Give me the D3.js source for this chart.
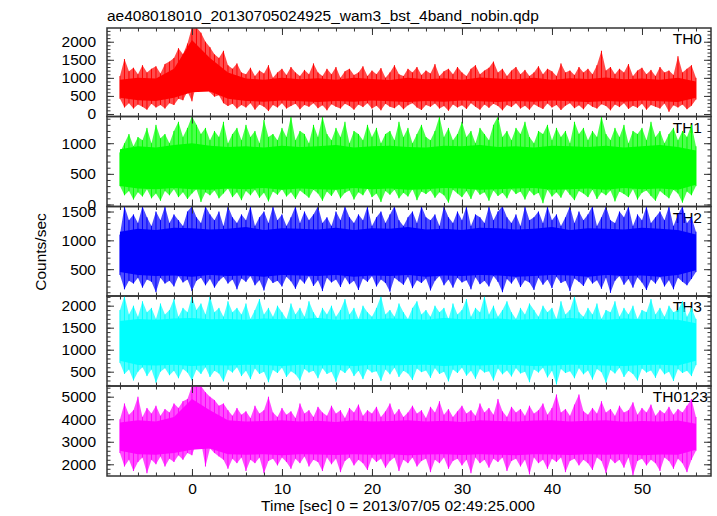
<!DOCTYPE html>
<html><head><meta charset="utf-8">
<script src="https://cdn.jsdelivr.net/npm/d3@7"></script>
<style>body{margin:0;background:#fff}svg{display:block}text{font-family:"Liberation Sans",Arial,Helvetica,sans-serif}</style>
</head><body><svg id="c" width="717" height="516"></svg>
<script>
// ---- data: light curves, 0.5 s bins: upper/lower extremes per bin (counts/sec) ----
const timeStart = -8, timeStep = 0.5;
// dense core of each band, read every 2 s
const coreStart = -8, coreStep = 2;
const panelNames = ["TH0", "TH1", "TH2", "TH3", "TH0123"];
const titleText = "ae408018010_20130705024925_wam3_bst_4band_nobin.qdp";
const xLabel = "Time [sec] 0 = 2013/07/05 02:49:25.000";
const yLabel = "Counts/sec";
const xTicks = [0, 10, 20, 30, 40, 50];
const yTicks0 = [0, 500, 1000, 1500, 2000];
const yTicks1 = [0, 500, 1000];
const yTicks2 = [500, 1000, 1500];
const yTicks3 = [500, 1000, 1500, 2000];
const yTicks4 = [2000, 3000, 4000, 5000];

const th0Hi = [1050,1520,1180,1280,1100,1350,1150,1250,1320,1120,1380,1450,1550,1820,1650,1950,
2400,2400,2250,2000,1850,1650,1550,1750,1350,1250,1400,1150,1100,1280,1050,1200,
1120,1350,1000,1150,1250,1080,1300,1150,1050,1220,1100,1400,1150,1050,1250,1100,
1300,1000,1180,1250,1080,1150,1320,1050,1200,1100,1270,1000,1150,1350,1100,1050,
1250,1150,1300,1080,1200,1120,1380,1050,1180,1250,1100,1300,1150,1050,1250,1350,
1100,1200,1280,1450,1150,1250,1050,1200,1300,1100,1220,1050,1150,1320,1100,1250,
1180,1050,1400,1150,1200,1080,1300,1150,1250,1100,1350,1750,1200,1300,1100,1250,
1150,1380,1050,1200,1280,1100,1220,1050,1300,1150,1200,1080,1600,1150,1250,1350,1000];
const th0Lo = [420,180,300,150,260,200,120,280,180,250,150,300,250,420,380,620,
350,820,750,780,600,480,520,300,220,280,150,250,180,300,120,260,
200,80,250,180,300,150,220,280,130,250,200,300,160,240,100,270,
200,150,280,220,120,260,190,300,150,230,100,280,200,160,260,130,
240,300,180,110,250,200,290,150,220,90,260,180,240,140,300,200,
120,260,170,280,220,100,250,190,300,150,230,120,270,200,140,290,
180,250,110,230,300,160,240,130,280,200,150,270,220,100,260,190,
300,140,230,170,280,120,250,200,150,290,60,240,180,260,130,230,400];

const th1Hi = [850,1000,1150,950,1100,1050,1250,1000,1300,1080,1150,1000,1200,1350,1100,1250,
1440,1300,1150,1250,1050,1200,1100,1350,1000,1150,1250,1050,1300,1100,1200,1000,
1380,1100,1150,1050,1250,1100,1440,1050,1200,1150,1000,1300,1100,1440,1150,1050,
1250,1100,1350,1000,1200,1150,1050,1300,1100,1250,1000,1150,1200,1050,1350,1100,
1250,1000,1150,1300,1100,1050,1200,1440,1100,1250,1050,1150,1350,1100,1200,1000,
1250,1150,1050,1300,1440,1100,1200,1050,1250,1150,1350,1100,1000,1200,1150,1300,
1050,1250,1100,1200,1000,1350,1150,1250,1050,1200,1100,1440,1150,1050,1250,1100,
1300,1000,1200,1150,1250,1050,1350,1100,1200,1000,1150,1250,1050,1200,1100,1300,950];
const th1Lo = [300,150,220,80,200,130,250,100,180,60,220,150,250,120,200,90,
180,250,40,200,150,230,100,180,260,120,200,70,220,150,240,110,
190,50,210,160,250,130,200,90,230,170,110,240,180,60,210,140,
250,100,190,230,80,200,150,260,120,180,40,220,160,240,100,190,
130,250,70,210,170,230,110,200,150,30,240,180,120,220,90,250,
160,200,60,230,140,190,100,250,170,210,80,230,150,190,20,240,
130,200,110,250,160,70,220,180,120,240,90,200,150,230,50,210,
170,120,250,80,190,230,140,60,220,160,100,240,180,30,210,150,300];

const th2Hi = [1100,1590,1350,1450,1300,1590,1400,1250,1500,1350,1590,1300,1450,1350,1250,1500,
1590,1400,1300,1590,1450,1350,1500,1250,1590,1400,1300,1450,1350,1590,1250,1400,
1500,1300,1590,1350,1450,1250,1400,1590,1300,1500,1350,1450,1590,1300,1400,1250,
1500,1350,1590,1400,1300,1450,1350,1590,1250,1400,1500,1300,1450,1590,1350,1250,
1400,1500,1300,1590,1400,1350,1450,1250,1590,1400,1300,1500,1350,1590,1250,1450,
1400,1300,1590,1350,1500,1590,1400,1300,1450,1250,1590,1350,1400,1500,1300,1590,
1350,1450,1250,1400,1590,1300,1500,1350,1450,1590,1250,1400,1590,1350,1300,1500,
1400,1590,1250,1450,1350,1590,1300,1400,1500,1350,1590,1250,1450,1590,1300,1400,1150];
const th2Lo = [400,150,300,250,350,180,320,280,100,350,250,300,200,380,270,320,
120,300,350,220,330,180,300,370,250,320,150,340,280,380,220,310,
130,350,260,300,200,370,290,160,330,250,380,210,310,120,350,270,
320,190,360,240,300,140,340,280,380,200,320,260,110,350,290,230,
370,170,310,260,340,130,300,380,220,320,180,350,270,310,150,360,
240,300,200,380,280,100,330,250,360,190,310,270,140,350,230,320,
170,370,260,300,120,340,280,210,360,250,310,160,350,90,300,380,
230,330,180,360,270,140,320,250,370,200,310,150,350,280,220,330,450];

const th3Hi = [1900,2220,1800,2000,1750,2100,1850,1950,1700,2050,1800,1900,2150,1750,1950,1850,
2220,1900,2050,1800,2220,1850,1950,1750,2100,1850,1950,1800,2050,1700,1900,2150,
1800,1950,1750,2000,1850,1700,2050,1800,1950,1750,2100,1850,1700,1950,1800,2000,
1750,1900,2150,1800,1950,1700,2000,1850,1750,1950,2220,1800,1900,1750,2050,1850,
1700,1950,2100,1800,1900,1750,2000,1850,1950,1700,2050,1800,1900,2150,1750,1950,
1850,2220,1800,2000,1750,1900,2100,1850,1700,1950,1800,2050,1900,1750,2000,1850,
1950,1700,2100,1800,1900,2220,1850,1750,1950,1800,2050,1700,1900,1850,2100,1750,
1950,1800,2000,1700,1900,1850,2150,1800,1950,1750,2000,1850,1900,2100,1750,1950,1700];
const th3Lo = [700,450,550,300,500,600,400,550,250,500,580,420,520,350,560,480,
300,550,450,600,380,520,460,280,550,480,600,400,520,330,570,450,
500,260,540,470,590,380,510,440,300,560,480,520,350,580,450,500,
270,540,470,590,400,520,330,560,480,510,290,550,440,590,380,520,
460,310,570,490,530,360,580,450,500,280,550,470,590,410,520,340,
560,480,510,300,570,440,530,390,580,460,500,260,550,480,590,370,
520,210,560,470,510,350,580,440,530,320,560,490,250,540,460,590,
380,520,450,300,570,480,530,360,580,440,500,290,560,470,520,400,650];

const th0123Hi = [4000,4700,4200,4400,5000,4100,4500,4250,4600,4150,4450,4300,4700,4500,4800,4900,
5480,5480,5480,5200,5000,4850,4600,4700,4400,4150,4500,4200,4350,4050,4600,4250,
4400,5000,4300,4100,4500,4200,4350,4050,4700,4250,4400,4100,4550,4300,4150,4600,
4250,4400,4050,4500,4300,4650,4150,4400,4250,4550,4100,4350,4700,4200,4450,4100,
4300,4600,4250,4400,4050,4550,4300,4800,4200,4450,4100,4350,4600,4250,4400,4150,
4700,4300,4500,4200,4900,4350,4100,4550,4300,4450,4150,4600,4250,4400,4700,4200,
4500,5100,4300,4450,4150,4650,5100,4350,4200,4500,4250,4800,4300,4450,4150,4600,
4300,4400,4750,4200,4500,4300,4650,4150,4400,4250,4550,4200,4450,4300,4600,4900,4100];
const th0123Lo = [2500,1900,2200,1700,2100,2300,1600,2200,2000,2350,1900,2250,2100,2400,2200,2500,
2400,2950,3000,1900,2700,2500,2350,2200,1800,2250,2050,2300,1700,2200,2050,2300,
1600,2150,2250,1950,2300,2100,1800,2250,2050,2350,1900,2200,2100,1700,2300,2000,
2250,1650,2150,2300,1950,2200,2050,1750,2300,2100,2250,1850,2150,2300,1700,2200,
2050,2300,1900,2150,2250,1650,2200,2050,2300,1800,2150,2250,1950,2200,1600,2300,
2050,2200,1850,2250,2100,2300,1700,2150,2250,1900,2200,1550,2300,2050,2200,1800,
2250,2100,2300,1650,2150,2250,1950,2200,2050,1750,2300,2150,1600,2250,2050,2200,
1850,2300,1500,2150,2250,1950,2200,2050,1700,2300,2150,1800,2250,2050,1650,2200,2600];

// dense core (2 s steps, t = -8 … 56)
const th0CoreHi = [950,1000,980,1250,2050,1550,1150,980,950,1000,960,990,950,1000,970,940,1000,960,990,950,1010,980,960,1000,950,990,970,1010,960,980,950,1000,900];
const th0CoreLo = [450,380,360,450,600,620,420,360,340,370,350,330,360,340,370,350,330,360,340,370,350,330,360,340,370,350,330,360,340,370,350,330,450];
const th1CoreHi = [900,950,930,970,1000,960,940,950,930,960,940,950,970,930,950,960,940,930,960,950,970,940,950,930,960,950,940,960,930,950,970,940,880];
const th1CoreLo = [300,260,250,270,250,240,260,250,270,240,260,250,240,270,250,260,240,250,270,260,240,250,260,270,240,250,260,240,270,250,260,240,320];
const th2CoreHi = [1150,1200,1180,1220,1210,1190,1200,1230,1180,1210,1200,1190,1220,1180,1210,1200,1230,1190,1200,1180,1220,1210,1190,1200,1230,1180,1210,1200,1190,1220,1200,1180,1100];
const th2CoreLo = [450,400,380,390,370,400,380,390,370,400,390,380,400,370,390,380,400,370,390,380,400,390,370,380,400,390,370,400,380,390,370,400,480];
const th3CoreHi = [1650,1700,1680,1710,1720,1690,1700,1680,1710,1690,1700,1720,1680,1700,1690,1710,1700,1680,1720,1690,1700,1710,1680,1700,1690,1720,1700,1680,1710,1690,1700,1680,1600];
const th3CoreLo = [750,650,640,660,630,650,640,660,650,630,660,640,650,630,660,640,650,660,630,650,640,660,650,630,640,660,650,640,630,650,660,640,750];
const th0123CoreHi = [3850,3950,3900,4100,4900,4400,3950,3900,3920,3950,3900,3930,3880,3950,3900,3920,3960,3900,3930,3880,3950,3920,3900,3940,3960,3900,3930,3950,3890,3920,3900,3940,3800];
const th0123CoreLo = [2600,2450,2420,2500,2650,2700,2450,2420,2440,2400,2450,2430,2410,2440,2420,2450,2400,2430,2440,2410,2450,2420,2400,2440,2430,2410,2450,2420,2440,2400,2430,2420,2650];

const seriesHi = [th0Hi, th1Hi, th2Hi, th3Hi, th0123Hi];
const seriesLo = [th0Lo, th1Lo, th2Lo, th3Lo, th0123Lo];
const coreHi = [th0CoreHi, th1CoreHi, th2CoreHi, th3CoreHi, th0123CoreHi];
const coreLo = [th0CoreLo, th1CoreLo, th2CoreLo, th3CoreLo, th0123CoreLo];
const yTickSets = [yTicks0, yTicks1, yTicks2, yTicks3, yTicks4];

// ---- layout / style ----
const colors = ["#ff0000", "#00ff00", "#0000ff", "#00ffff", "#ff00ff"];
const yDomains = [[-70, 2380], [-33, 1436], [35, 1587], [175, 2220], [1480, 5475]];
const yMinorStep = [100, 100, 100, 100, 200];
const edges = [28, 116.5, 206.5, 296, 386, 476];
const L = 107, R = 711;
const labelRight = [702, 702, 702, 702, 708];
const FS = "15.5px";
const axisColor = "#333";

const svg = d3.select("#c");
const x = d3.scaleLinear().domain([-9.44, 57.67]).range([L, R]);
const xMinor = d3.range(-8, 57, 2);

function styleAxis(g) {
  g.select(".domain").remove();
  g.selectAll(".tick line").attr("stroke", axisColor).attr("stroke-width", 1);
  g.selectAll("text").attr("font-size", FS).attr("fill", "#000")
    .attr("font-family", '"Liberation Sans",Arial,Helvetica,sans-serif');
}

panelNames.forEach((name, i) => {
  const top = edges[i], bot = edges[i + 1];
  const y = d3.scaleLinear().domain(yDomains[i]).range([bot, top]);
  const data = seriesHi[i].map((h, k) => ({ t: timeStart + k * timeStep, hi: h, lo: seriesLo[i][k] }));
  const core = coreHi[i].map((h, k) => ({ t: coreStart + k * coreStep, hi: h, lo: coreLo[i][k] }));
  const g = svg.append("g");

  // panel label
  g.append("text").attr("x", labelRight[i]).attr("y", top + 16)
    .attr("text-anchor", "end").attr("font-size", FS).text(name);

  // data
  svg.append("clipPath").attr("id", "clip" + i).append("rect")
    .attr("x", L).attr("y", top).attr("width", R - L).attr("height", bot - top);
  const dg = g.append("g").attr("clip-path", `url(#clip${i})`);
  const area = d3.area().x(d => x(d.t)).y0(d => y(d.lo)).y1(d => y(d.hi));
  dg.append("path").datum(data).attr("d", area).attr("fill", colors[i]).attr("fill-opacity", 0.7);
  dg.selectAll("line.n").data(data).join("line").attr("class", "n")
    .attr("x1", d => x(d.t)).attr("x2", d => x(d.t))
    .attr("y1", d => y(d.lo)).attr("y2", d => y(d.hi))
    .attr("stroke", colors[i]).attr("stroke-width", 1);
  dg.append("path").datum(core).attr("d", area).attr("fill", colors[i]);

  // y axes
  const [d0, d1] = yDomains[i];
  const yMinor = d3.range(Math.ceil(d0 / yMinorStep[i]) * yMinorStep[i], d1, yMinorStep[i]);
  const yMajor = yTickSets[i];
  g.append("g").attr("transform", `translate(${L},0)`)
    .call(d3.axisLeft(y).tickValues(yMajor).tickSizeInner(-7).tickSizeOuter(0).tickPadding(11).tickFormat(d3.format("d")))
    .call(styleAxis);
  g.append("g").attr("transform", `translate(${L},0)`)
    .call(d3.axisLeft(y).tickValues(yMinor).tickSize(-3.5).tickFormat("")).call(styleAxis);
  g.append("g").attr("transform", `translate(${R},0)`)
    .call(d3.axisRight(y).tickValues(yMajor).tickSize(-7).tickFormat("")).call(styleAxis);
  g.append("g").attr("transform", `translate(${R},0)`)
    .call(d3.axisRight(y).tickValues(yMinor).tickSize(-3.5).tickFormat("")).call(styleAxis);

  // x axes
  g.append("g").attr("transform", `translate(0,${bot})`)
    .call(d3.axisBottom(x).tickValues(xTicks).tickSizeInner(-7).tickSizeOuter(0).tickPadding(7)
      .tickFormat(i === panelNames.length - 1 ? d3.format("d") : ""))
    .call(styleAxis);
  g.append("g").attr("transform", `translate(0,${bot})`)
    .call(d3.axisBottom(x).tickValues(xMinor).tickSize(-3.5).tickFormat("")).call(styleAxis);
  g.append("g").attr("transform", `translate(0,${top})`)
    .call(d3.axisTop(x).tickValues(xTicks).tickSize(-7).tickFormat("")).call(styleAxis);
  g.append("g").attr("transform", `translate(0,${top})`)
    .call(d3.axisTop(x).tickValues(xMinor).tickSize(-3.5).tickFormat("")).call(styleAxis);

  // frame
  g.append("rect").attr("x", L).attr("y", top).attr("width", R - L).attr("height", bot - top)
    .attr("fill", "none").attr("stroke", axisColor).attr("stroke-width", 1.5);
});

svg.append("text").attr("x", 107).attr("y", 21).attr("font-size", FS).text(titleText);
svg.append("text").attr("x", 398).attr("y", 511).attr("text-anchor", "middle").attr("font-size", FS).text(xLabel);
svg.append("text").attr("transform", "translate(46,252) rotate(-90)").attr("text-anchor", "middle")
  .attr("font-size", FS).text(yLabel);
</script></body></html>
